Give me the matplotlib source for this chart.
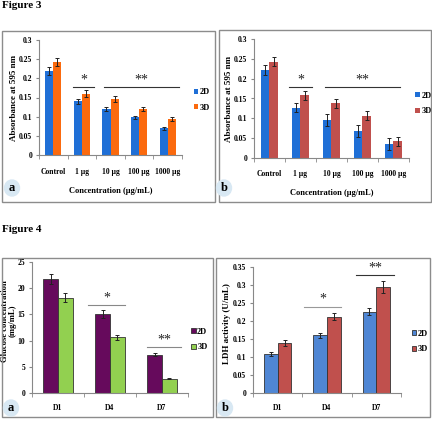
import numpy as np
import matplotlib
matplotlib.use('Agg')
import matplotlib.pyplot as plt
from matplotlib.patches import Rectangle, Ellipse

plt.rcParams['font.family'] = ['Liberation Serif', 'DejaVu Serif']
plt.rcParams['font.weight'] = 'bold'
plt.rcParams['axes.labelweight'] = 'bold'

# ---- data ----
conc = ['Control', '1 µg', '10 µg', '100 µg', '1000 µg']
days = ['D1', 'D4', 'D7']

f3a_2d = [0.220, 0.140, 0.120, 0.099, 0.070]
f3a_2d_err = [0.010, 0.006, 0.006, 0.004, 0.004]
f3a_3d = [0.243, 0.160, 0.146, 0.121, 0.095]
f3a_3d_err = [0.011, 0.009, 0.007, 0.005, 0.005]

f3b_2d = [0.221, 0.127, 0.095, 0.068, 0.035]
f3b_2d_err = [0.013, 0.012, 0.015, 0.015, 0.015]
f3b_3d = [0.243, 0.158, 0.138, 0.107, 0.042]
f3b_3d_err = [0.011, 0.011, 0.011, 0.011, 0.012]

f4a_2d = [21.8, 15.1, 7.3]
f4a_2d_err = [1.0, 0.8, 0.3]
f4a_3d = [18.2, 10.6, 2.7]
f4a_3d_err = [0.9, 0.5, 0.1]

f4b_2d = [0.109, 0.161, 0.226]
f4b_2d_err = [0.005, 0.007, 0.010]
f4b_3d = [0.139, 0.212, 0.295]
f4b_3d_err = [0.008, 0.010, 0.016]

# significance brackets: (x start, x end, y, label)
f3a_sig = [(0.68, 1.42, 0.177, '*'), (1.77, 4.40, 0.177, '**')]
f3b_sig = [(0.64, 1.36, 0.178, '*'), (1.79, 4.21, 0.178, '**')]
f4a_sig = [(0.58, 1.29, 16.8, '*'), (1.72, 2.36, 8.8, '**')]
f4b_sig = [(0.54, 1.28, 0.240, '*'), (1.59, 2.36, 0.327, '**')]

W, H = 432, 429
fig = plt.figure(figsize=(W / 100, H / 100), dpi=100)


def rect(l, t, r, b):
    return [l / W, 1 - b / H, (r - l) / W, (b - t) / H]


def panel_box(l, t, r, b):
    fig.patches.append(Rectangle((l / W, 1 - b / H), (r - l) / W, (b - t) / H,
                                 transform=fig.transFigure, fill=False,
                                 edgecolor='#8c8c8c', lw=1.0))


def letter(x, y, s):
    fig.patches.append(Ellipse((x / W, 1 - y / H), 15 / W, 16 / H,
                               transform=fig.transFigure, color='#d8e8f3'))
    fig.text(x / W, 1 - y / H, s, ha='center', va='center', fontsize=9,
             fontweight='bold')


def bars(ax, cats, v2, e2, v3, e3, c2, c3, ec, ymax, ystep, fmt, sig,
         sig_colors, lw=0.0, pad=9):
    x = np.arange(len(cats))
    w = 0.28
    ekw = dict(ecolor='#222222', elinewidth=0.7, capsize=1.5, capthick=0.7)
    ax.bar(x - w / 2, v2, w, yerr=e2, color=c2, edgecolor=ec, linewidth=lw,
           error_kw=ekw, label='2D', zorder=2)
    ax.bar(x + w / 2, v3, w, yerr=e3, color=c3, edgecolor=ec, linewidth=lw,
           error_kw=ekw, label='3D', zorder=2)
    ax.set_xlim(-0.5, len(cats) - 0.5)
    ax.set_ylim(0, ymax)
    ticks = np.arange(0, ymax + ystep / 2, ystep)
    ax.set_yticks(ticks)
    ax.set_yticklabels([fmt(t) for t in ticks], fontsize=5.5)
    ax.set_xticks(x)
    ax.set_xticklabels(cats, fontsize=5.5)
    ax.set_xticks(np.arange(len(cats) + 1) - 0.5, minor=True)
    ax.tick_params(axis='x', which='major', length=0, pad=pad)
    ax.tick_params(axis='x', which='minor', length=3, direction='out',
                   color='#888888')
    ax.tick_params(axis='y', length=2.5, direction='out', color='#888888', pad=2.5)
    for s in ['top', 'right']:
        ax.spines[s].set_visible(False)
    for s in ['left', 'bottom']:
        ax.spines[s].set_color('#888888')
        ax.spines[s].set_linewidth(0.8)
    for (a, b, y, lab), col in zip(sig, sig_colors):
        ax.plot([a, b], [y, y], color=col, lw=0.8, clip_on=False)
        ax.text((a + b) / 2, y + ymax * 0.005, lab, ha='center', va='bottom',
                fontsize=10, fontweight='normal', color='#222222')


def ylab(ax, text, x, y=0.5, size=6.5):
    ax.set_ylabel(text, fontsize=size, linespacing=0.85)
    ax.yaxis.label.set_va('center')
    ax.yaxis.set_label_coords(x, y)


def legend(ax, x, y):
    ax.legend(loc='center left', bbox_to_anchor=(x, y), frameon=False,
              fontsize=6, handlelength=0.55, handleheight=0.55,
              handletextpad=0.15, labelspacing=0.9, borderaxespad=0)


fmt3 = lambda t: '0' if t == 0 else ('%.2f' % t).rstrip('0')
fmtint = lambda t: '%d' % t

fig.text(2 / W, 1 - 6 / H, 'Figure 3', fontsize=8, fontweight='bold',
         va='center', ha='left')
fig.text(2 / W, 1 - 229 / H, 'Figure 4', fontsize=8, fontweight='bold',
         va='center', ha='left')

# panel 3a
panel_box(2, 31, 215, 202)
ax = fig.add_axes(rect(39, 40, 182, 155))
bars(ax, conc, f3a_2d, f3a_2d_err, f3a_3d, f3a_3d_err, '#1f6fd6', '#fb6a0e',
     'none', 0.3, 0.05, fmt3, f3a_sig, ['#333333', '#333333'])
ylab(ax, 'Absorbance at 595 nm', -0.175)
ax.set_xlabel('Concentration (µg/mL)', fontsize=6)
ax.xaxis.set_label_coords(0.5, -0.28)
legend(ax, 1.06, 0.48)
letter(12, 188, 'a')

# panel 3b
panel_box(219, 30, 431, 202)
ax = fig.add_axes(rect(254, 39, 409, 158))
bars(ax, conc, f3b_2d, f3b_2d_err, f3b_3d, f3b_3d_err, '#1f6fd6', '#c0504d',
     'none', 0.3, 0.05, fmt3, f3b_sig, ['#333333', '#333333'])
ylab(ax, 'Absorbance at 595 nm', -0.16)
ax.set_xlabel('Concentration (µg/mL)', fontsize=6)
ax.xaxis.set_label_coords(0.5, -0.26)
legend(ax, 1.02, 0.46)
letter(224, 188, 'b')

# panel 4a
panel_box(2, 258, 213, 417)
ax = fig.add_axes(rect(32, 262, 188, 393))
bars(ax, days, f4a_2d, f4a_2d_err, f4a_3d, f4a_3d_err, '#660a5c', '#92d050',
     '#333333', 25, 5, fmtint, f4a_sig, ['#888888', '#888888'], lw=0.6, pad=8)
ylab(ax, 'Glucose concentration\n(mg/mL)', -0.15, 0.55, size=6.2)
legend(ax, 1.0, 0.41)
letter(11, 408, 'a')

# panel 4b
panel_box(216, 258, 430, 417)
ax = fig.add_axes(rect(253, 267, 401, 393))
bars(ax, days, f4b_2d, f4b_2d_err, f4b_3d, f4b_3d_err, '#4f86d4', '#c0504d',
     '#333333', 0.35, 0.05, fmt3, f4b_sig, ['#999999', '#333333'], lw=0.6, pad=8)
ylab(ax, 'LDH activity (U/mL)', -0.175, 0.55)
legend(ax, 1.05, 0.41)
letter(225, 408, 'b')

fig.savefig('out.png', dpi=100)
